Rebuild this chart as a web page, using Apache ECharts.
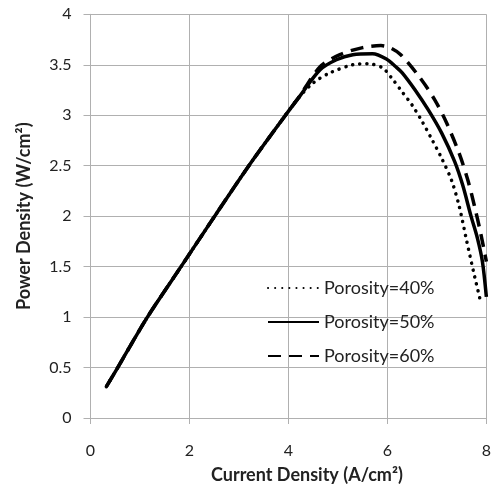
<!DOCTYPE html>
<html>
<head>
<meta charset="utf-8">
<script src="https://cdn.jsdelivr.net/npm/echarts@6/dist/echarts.min.js"></script>
<style>html,body{margin:0;padding:0;background:#fff}#c{width:494px;height:489px}</style>
</head>
<body>
<div id="c"></div>
<script>
var seriesNames = ['Porosity=40%', 'Porosity=50%', 'Porosity=60%'];
var xTicks = [0, 2, 4, 6, 8];
var yTicks = [0, 0.5, 1, 1.5, 2, 2.5, 3, 3.5, 4];

var common = [[0.32,0.31],[0.55,0.5],[1.15,1.0],[1.83,1.5],[2.51,2.0],[3.2,2.5],[3.94,3.0],[4.2,3.17]];

var porosity40 = common.concat([[4.5,3.32],[4.84,3.42],[5.3,3.5],[5.6,3.51],[5.9,3.47],[6.1,3.36],[6.3,3.23],[6.5,3.1],[6.7,2.94],[6.9,2.76],[7.1,2.57],[7.3,2.35],[7.45,2.1],[7.6,1.76],[7.75,1.43],[7.88,1.16]]);

var porosity50 = common.concat([[4.64,3.45],[4.97,3.55],[5.3,3.6],[5.7,3.61],[5.97,3.56],[6.17,3.48],[6.3,3.42],[6.56,3.25],[6.83,3.05],[7.1,2.82],[7.36,2.54],[7.52,2.31],[7.69,2.0],[7.82,1.78],[7.92,1.55],[8.0,1.2]]);

var porosity60 = common.concat([[4.64,3.48],[5.04,3.6],[5.5,3.67],[5.87,3.69],[6.05,3.67],[6.27,3.6],[6.66,3.37],[6.96,3.15],[7.2,2.92],[7.46,2.61],[7.63,2.35],[7.76,2.1],[7.89,1.82],[8.0,1.55]]);

var font = 'Lato, "Open Sans", sans-serif';
var chart = echarts.init(document.getElementById('c'));
chart.setOption({
  animation: false,
  backgroundColor: '#fff',
  grid: {left: 90.5, right: 3, top: 14.3, bottom: 70},
  legend: {
    orient: 'vertical',
    left: 267, top: 279, padding: 0,
    itemWidth: 51, itemHeight: 16, itemGap: 16,
    itemStyle: {opacity: 0},
    textStyle: {fontFamily: font, fontSize: 18, color: '#222'},
    data: seriesNames
  },
  xAxis: {
    type: 'value', min: xTicks[0], max: xTicks[xTicks.length-1], interval: 2,
    name: 'Current Density (A/cm²)', nameLocation: 'middle', nameGap: 48,
    nameTextStyle: {fontFamily: font, fontSize: 18, fontWeight: 'bold', color: '#222', padding: [0,0,0,37]},
    axisLine: {show: true, lineStyle: {color: '#b0b0b0', width: 1}},
    axisTick: {show: true, length: 6, lineStyle: {color: '#b0b0b0'}},
    axisLabel: {margin: 25, fontFamily: font, fontSize: 16, color: '#222'},
    splitLine: {show: true, lineStyle: {color: '#b0b0b0', width: 1}}
  },
  yAxis: {
    type: 'value', min: yTicks[0], max: yTicks[yTicks.length-1], interval: 0.5,
    name: 'Power Density (W/cm²)', nameLocation: 'middle', nameGap: 57,
    nameTextStyle: {fontFamily: font, fontSize: 18, fontWeight: 'bold', color: '#222'},
    axisLine: {show: true, lineStyle: {color: '#b0b0b0', width: 1}},
    axisTick: {show: true, length: 7, lineStyle: {color: '#b0b0b0'}},
    axisLabel: {margin: 19, fontFamily: font, fontSize: 16, color: '#222'},
    splitLine: {show: true, lineStyle: {color: '#b0b0b0', width: 1}}
  },
  series: [
    {name: seriesNames[0], type: 'line', data: porosity40, symbol: 'none', smooth: 0.3,
     lineStyle: {color: '#000', width: 3.5, type: [0.1, 7], cap: 'round'}, itemStyle: {color: '#000'}},
    {name: seriesNames[1], type: 'line', data: porosity50, symbol: 'none', smooth: 0.3,
     lineStyle: {color: '#000', width: 3.5, type: 'solid'}, itemStyle: {color: '#000'}},
    {name: seriesNames[2], type: 'line', data: porosity60, symbol: 'none', smooth: 0.3,
     lineStyle: {color: '#000', width: 3.5, type: [13, 8]}, itemStyle: {color: '#000'}}
  ]
});
</script>
</body>
</html>
